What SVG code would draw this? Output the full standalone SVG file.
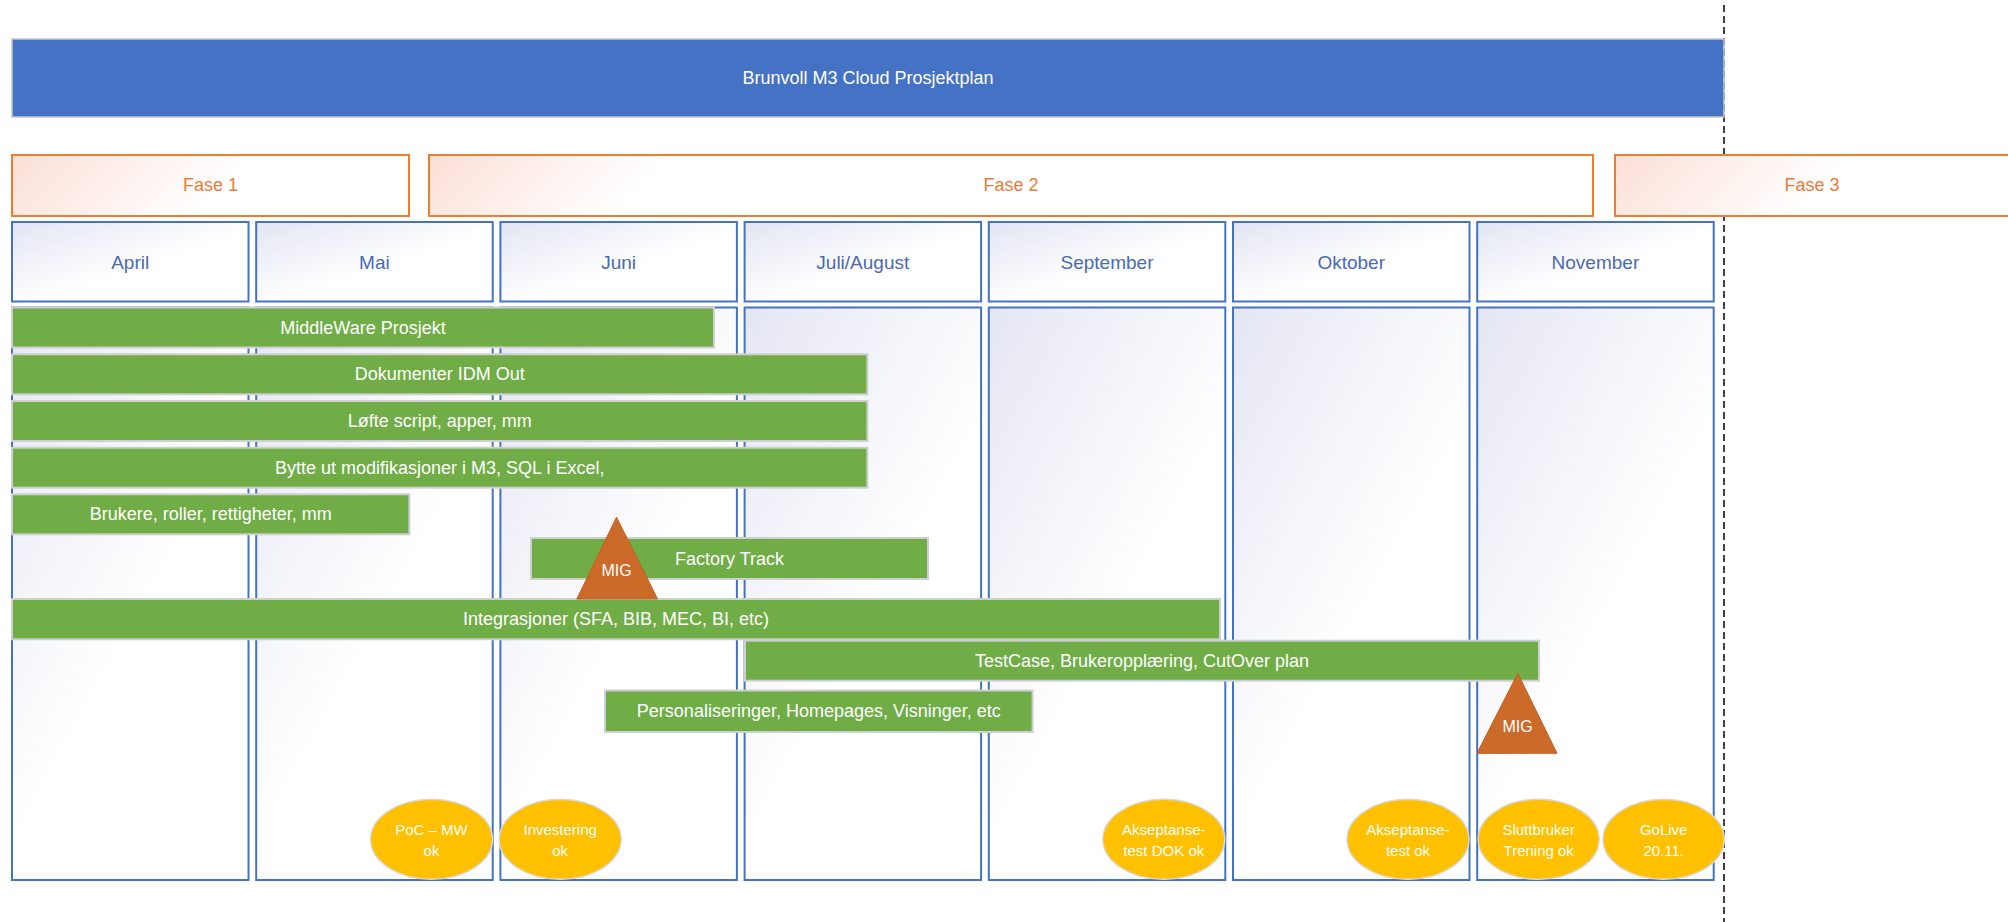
<svg xmlns="http://www.w3.org/2000/svg" width="2008" height="922" viewBox="0 0 2008 922">
<defs>
<linearGradient id="gMonth" x1="0" y1="0" x2="1" y2="1">
<stop offset="0" stop-color="#e2e5f3"/>
<stop offset="0.55" stop-color="#ffffff"/>
<stop offset="1" stop-color="#ffffff"/>
</linearGradient>
<linearGradient id="gCol" x1="0" y1="0" x2="0.45" y2="0.6">
<stop offset="0" stop-color="#e4e6f3"/>
<stop offset="1" stop-color="#ffffff"/>
</linearGradient>
<linearGradient id="gP1" gradientUnits="userSpaceOnUse" x1="12" y1="155" x2="172" y2="315">
<stop offset="0" stop-color="#fbdfd6"/>
<stop offset="0.75" stop-color="#ffffff"/>
</linearGradient>
<linearGradient id="gP2" gradientUnits="userSpaceOnUse" x1="429" y1="155" x2="589" y2="315">
<stop offset="0" stop-color="#fbdfd6"/>
<stop offset="0.75" stop-color="#ffffff"/>
</linearGradient>
<linearGradient id="gP3" gradientUnits="userSpaceOnUse" x1="1615" y1="155" x2="1775" y2="315">
<stop offset="0" stop-color="#fbdfd6"/>
<stop offset="0.75" stop-color="#ffffff"/>
</linearGradient>
</defs>
<style>
text{font-family:"Liberation Sans",Arial,sans-serif;text-anchor:middle;dominant-baseline:central}
.title{fill:#4472C4;stroke:#c8c8c8;stroke-width:1.5}
.tt{fill:#ffffff;font-size:18px}
.phase{stroke:#ED7D31;stroke-width:2}
.pt{fill:#E97C3A;font-size:18px}
.month{fill:url(#gMonth);stroke:#4472C4;stroke-width:2}
.mt{fill:#4A6AB2;font-size:19px}
.col{fill:url(#gCol);stroke:#4472C4;stroke-width:2}
.bar{fill:#70AD47;stroke:#cfcfcf;stroke-width:2}
.bt{fill:#ffffff;font-size:18px}
.mig{fill:#CC6A2A;stroke:#c06020;stroke-width:1}
.migt{fill:#ffffff;font-size:16px}
.ms{fill:#FFC000;stroke:#d8d8d8;stroke-width:1.5}
.mst{fill:#ffffff;font-size:15px}
.dash{stroke:#404040;stroke-width:2;stroke-dasharray:7,4;fill:none}
</style>
<rect width="2008" height="922" fill="#ffffff"/>
<g id="divider">
<line class="dash" x1="1724" y1="5" x2="1724" y2="922"/>
</g>
<g id="title">
<rect class="title" x="12" y="39" width="1712" height="78"/>
<text class="tt" x="868" y="78">Brunvoll M3 Cloud Prosjektplan</text>
</g>
<g id="fase1">
<rect class="phase" fill="url(#gP1)" x="12" y="155" width="397" height="61"/>
<text class="pt" x="210.5" y="185">Fase 1</text>
</g>
<g id="fase2">
<rect class="phase" fill="url(#gP2)" x="429" y="155" width="1164" height="61"/>
<text class="pt" x="1011" y="185">Fase 2</text>
</g>
<g id="fase3">
<rect class="phase" fill="url(#gP3)" x="1615" y="155" width="400" height="61"/>
<text class="pt" x="1812" y="185">Fase 3</text>
</g>
<g id="col-april">
<rect class="month" x="12" y="222" width="236.5" height="79.5"/>
<text class="mt" x="130.2" y="262">April</text>
<rect class="col" x="12" y="307.5" width="236.5" height="572.5"/>
</g>
<g id="col-mai">
<rect class="month" x="256.2" y="222" width="236.5" height="79.5"/>
<text class="mt" x="374.4" y="262">Mai</text>
<rect class="col" x="256.2" y="307.5" width="236.5" height="572.5"/>
</g>
<g id="col-juni">
<rect class="month" x="500.4" y="222" width="236.5" height="79.5"/>
<text class="mt" x="618.6" y="262">Juni</text>
<rect class="col" x="500.4" y="307.5" width="236.5" height="572.5"/>
</g>
<g id="col-julaug">
<rect class="month" x="744.6" y="222" width="236.5" height="79.5"/>
<text class="mt" x="862.8" y="262">Juli/August</text>
<rect class="col" x="744.6" y="307.5" width="236.5" height="572.5"/>
</g>
<g id="col-september">
<rect class="month" x="988.8" y="222" width="236.5" height="79.5"/>
<text class="mt" x="1107" y="262">September</text>
<rect class="col" x="988.8" y="307.5" width="236.5" height="572.5"/>
</g>
<g id="col-oktober">
<rect class="month" x="1233" y="222" width="236.5" height="79.5"/>
<text class="mt" x="1351.2" y="262">Oktober</text>
<rect class="col" x="1233" y="307.5" width="236.5" height="572.5"/>
</g>
<g id="col-november">
<rect class="month" x="1477.2" y="222" width="236.5" height="79.5"/>
<text class="mt" x="1595.4" y="262">November</text>
<rect class="col" x="1477.2" y="307.5" width="236.5" height="572.5"/>
</g>
<g id="bar-middleware">
<rect class="bar" x="12" y="307.5" width="702" height="40"/>
<text class="bt" x="363" y="327.5">MiddleWare Prosjekt</text>
</g>
<g id="bar-dokumenter">
<rect class="bar" x="12" y="354.3" width="855.4" height="40"/>
<text class="bt" x="439.7" y="374.3">Dokumenter IDM Out</text>
</g>
<g id="bar-lofte">
<rect class="bar" x="12" y="401" width="855.4" height="40"/>
<text class="bt" x="439.7" y="421">Løfte script, apper, mm</text>
</g>
<g id="bar-bytte">
<rect class="bar" x="12" y="447.7" width="855.4" height="40"/>
<text class="bt" x="439.7" y="467.7">Bytte ut modifikasjoner i M3, SQL i Excel,</text>
</g>
<g id="bar-brukere">
<rect class="bar" x="12" y="494.3" width="397.4" height="40"/>
<text class="bt" x="210.7" y="514.3">Brukere, roller, rettigheter, mm</text>
</g>
<g id="bar-factory">
<rect class="bar" x="531" y="538" width="397" height="41"/>
<text class="bt" x="729.5" y="558.5">Factory Track</text>
</g>
<g id="bar-integrasjoner">
<rect class="bar" x="12" y="599" width="1208" height="40.3"/>
<text class="bt" x="616" y="619">Integrasjoner (SFA, BIB, MEC, BI, etc)</text>
</g>
<g id="bar-testcase">
<rect class="bar" x="745" y="640.7" width="794" height="40"/>
<text class="bt" x="1142" y="660.7">TestCase, Brukeropplæring, CutOver plan</text>
</g>
<g id="bar-personaliseringer">
<rect class="bar" x="605" y="690.5" width="427.6" height="41.5"/>
<text class="bt" x="818.8" y="711">Personaliseringer, Homepages, Visninger, etc</text>
</g>
<g id="mig1">
<polygon class="mig" points="616.5,517.3 657.6,599 576.8,599"/>
<text class="migt" x="616.5" y="570">MIG</text>
</g>
<g id="mig2">
<polygon class="mig" points="1517.8,673.3 1557,753.3 1477,753.3"/>
<text class="migt" x="1517.5" y="726">MIG</text>
</g>
<g id="ms-poc">
<ellipse class="ms" cx="431.5" cy="839.3" rx="61" ry="40"/>
<text class="mst" x="431.5" y="829.5">PoC – MW</text>
<text class="mst" x="431.5" y="850">ok</text>
</g>
<g id="ms-investering">
<ellipse class="ms" cx="560.2" cy="839.3" rx="61" ry="40"/>
<text class="mst" x="560.2" y="829.5">Investering</text>
<text class="mst" x="560.2" y="850">ok</text>
</g>
<g id="ms-aksept-dok">
<ellipse class="ms" cx="1163.8" cy="839.3" rx="61" ry="40"/>
<text class="mst" x="1163.8" y="829.5">Akseptanse-</text>
<text class="mst" x="1163.8" y="850">test DOK ok</text>
</g>
<g id="ms-aksept">
<ellipse class="ms" cx="1408" cy="839.3" rx="61" ry="40"/>
<text class="mst" x="1408" y="829.5">Akseptanse-</text>
<text class="mst" x="1408" y="850">test ok</text>
</g>
<g id="ms-sluttbruker">
<ellipse class="ms" cx="1538.7" cy="839.3" rx="60.5" ry="40"/>
<text class="mst" x="1538.7" y="829.5">Sluttbruker</text>
<text class="mst" x="1538.7" y="850">Trening ok</text>
</g>
<g id="ms-golive">
<ellipse class="ms" cx="1663.7" cy="839.3" rx="60.7" ry="40"/>
<text class="mst" x="1663.7" y="829.5">GoLive</text>
<text class="mst" x="1663.7" y="850">20.11.</text>
</g>
</svg>
